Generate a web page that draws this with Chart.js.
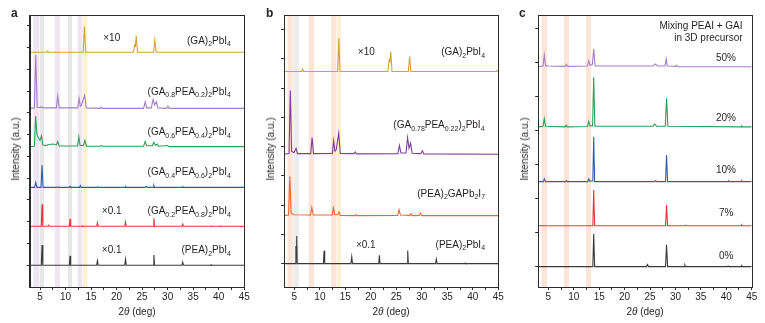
<!DOCTYPE html>
<html>
<head>
<meta charset="utf-8">
<script src="https://cdn.jsdelivr.net/npm/chart.js@4.4.1/dist/chart.umd.min.js"></script>
<style>
  body { margin:0; background:#fff; width:765px; height:323px; position:relative; overflow:hidden;
         font-family:"Liberation Sans", Arial, Helvetica, sans-serif; color:#231f20; }
  canvas { position:absolute; top:0; }
  .letter { position:absolute; font-weight:bold; font-size:12px; line-height:12px; top:7px; }
  .ytitle { position:absolute; font-size:10px; line-height:10px; white-space:nowrap;
            transform:translate(-50%,-50%) rotate(-90deg); }
  .xtitle { position:absolute; font-size:10px; line-height:10px; white-space:nowrap;
            transform:translateX(-50%); top:307px; }
</style>
</head>
<body>
<canvas id="ca" width="255" height="323" style="left:0"></canvas>
<canvas id="cb" width="255" height="323" style="left:255px"></canvas>
<canvas id="cc" width="255" height="323" style="left:510px"></canvas>

<div class="letter" style="left:11px">a</div>
<div class="letter" style="left:266px">b</div>
<div class="letter" style="left:519px">c</div>
<div class="ytitle" style="left:16px;top:149px">Intensity (a.u.)</div>
<div class="ytitle" style="left:271px;top:149px">Intensity (a.u.)</div>
<div class="ytitle" style="left:525px;top:149px">Intensity (a.u.)</div>
<div class="xtitle" style="left:137px">2<i>θ</i> (deg)</div>
<div class="xtitle" style="left:391px">2<i>θ</i> (deg)</div>
<div class="xtitle" style="left:645px">2<i>θ</i> (deg)</div>

<script>
// ---- data: x range + ticks ----
const xRange = [3, 45];
const xTicks = [5, 7.5, 10, 12.5, 15, 17.5, 20, 22.5, 25, 27.5, 30, 32.5, 35, 37.5, 40, 42.5, 45];

// ---- panel a: [2theta, intensity above own baseline] ----
const aGA = [[3,0],[6.3,0],[6.5,0.05],[6.7,0],[13.45,0],[13.7,1.18],[13.95,0],[23.3,0],[23.55,0.35],[23.7,0.3],
  [23.85,0.75],[24.1,0],[27.25,0],[27.5,0.57],[27.75,0],[45,0]];
const aGA08 = [[3,0],[3.9,0.02],[4.16,2.45],[4.45,0.05],[5.0,0.03],[5.3,0.08],[5.6,0.02],[8.2,0.02],[8.47,0.58],
  [8.75,0.02],[12.4,0.02],[12.65,0.46],[12.9,0.1],[13.1,0.15],[13.75,0.6],[14.05,0.02],[16.8,0],[17.0,0.06],[17.2,0],
  [25.3,0],[25.6,0.3],[25.9,0.02],[26.8,0.02],[27.15,0.41],[27.45,0.15],[27.8,0.3],[28.1,0.02],[29.8,0],[30.05,0.1],
  [30.3,0],[45,0]];
const aGA06 = [[3,0],[3.9,0.02],[4.15,1.41],[4.4,0.55],[4.7,0.4],[5.0,0.3],[5.3,0.49],[5.55,0.08],[6.0,0.05],[6.8,0.1],
  [7.6,0.12],[8.2,0.08],[8.47,0.24],[8.75,0.03],[12.35,0.03],[12.6,0.46],[12.85,0.05],[13.5,0.05],[13.8,0.28],[14.1,0.02],
  [16.8,0.02],[17.0,0.05],[17.3,0.02],[25.3,0.02],[25.6,0.24],[25.9,0.04],[27.0,0.04],[27.3,0.2],[27.6,0.06],[27.95,0.12],
  [28.2,0.02],[30,0.05],[30.3,0],[45,0]];
const aGA04 = [[3,0],[3.95,0],[4.16,0.23],[4.4,0],[5.2,0],[5.4,1.02],[5.6,0],[8.3,0],[8.45,0.03],[8.6,0],[10.75,0],
  [10.9,0.05],[11.05,0],[12.75,0],[12.9,0.08],[13.05,0],[16.15,0],[16.3,0.03],[16.45,0],[21.65,0],[21.8,0.04],[21.95,0],
  [25.6,0],[25.8,0.05],[26.0,0],[27.15,0],[27.3,0.1],[27.45,0],[32.85,0],[33,0.03],[33.15,0],[45,0]];
const aGA02 = [[3,0],[5.25,0],[5.4,1.01],[5.55,0],[6.55,0],[6.7,0.05],[6.85,0],[10.75,0],[10.88,0.34],[11.0,0],
  [13.2,0],[13.3,0.02],[13.4,0],[16.1,0],[16.25,0.17],[16.4,0],[21.6,0],[21.75,0.2],[21.9,0],[27.15,0],[27.3,0.37],
  [27.45,0],[32.8,0],[32.95,0.1],[33.1,0],[38.4,0],[38.5,0.02],[38.6,0],[40.2,0],[40.3,0.02],[40.4,0],[45,0]];
const aPEA = [[3,0],[5.25,0],[5.4,0.93],[5.55,0],[10.75,0],[10.88,0.43],[11.0,0],[16.1,0],[16.25,0.21],[16.4,0],
  [21.6,0],[21.75,0.28],[21.9,0],[27.15,0],[27.3,0.47],[27.45,0],[32.8,0],[32.95,0.14],[33.1,0],[38.4,0],[38.5,0.02],
  [38.6,0],[45,0]];
const aOffsets = [10.79, 8.21, 6.45, 4.58, 2.79, 1.0];
const aBands = [[3.69,4.8],[4.94,5.78],[7.94,8.92],[10.49,11.27],[12.39,13.3],[13.43,14.28]];

// ---- panel b ----
const bGA = [[3,0],[6.45,0],[6.62,0.08],[6.8,0],[13.5,0],[13.72,1.14],[13.95,0],[23.35,0],[23.6,0.4],[23.75,0.35],
  [23.9,0.68],[24.15,0],[27.35,0],[27.6,0.51],[27.85,0],[44.6,0],[44.8,0.03],[45,0]];
const bGA78 = [[3,0],[3.95,0.02],[4.2,2.18],[4.45,0.1],[4.9,0.05],[5.33,0.2],[5.6,0.02],[8.2,0.02],[8.47,0.57],
  [8.75,0.02],[12.45,0.03],[12.7,0.46],[12.95,0.1],[13.2,0.15],[13.7,0.72],[14.0,0.03],[16.7,0.02],[16.95,0.08],
  [17.2,0.01],[25.3,0.02],[25.6,0.3],[25.9,0.04],[26.9,0.04],[27.2,0.57],[27.5,0.2],[27.8,0.38],[28.1,0.03],[29.8,0.02],
  [30.1,0.12],[30.4,0.01],[45,0]];
const bGAPb = [[3,0],[3.85,0.02],[4.1,1.34],[4.35,0.1],[4.8,0.03],[8.15,0.02],[8.41,0.27],[8.7,0.02],[12.4,0.02],
  [12.65,0.27],[12.9,0.04],[13.5,0.03],[13.76,0.12],[14.0,0.01],[16.8,0],[17,0.04],[17.2,0],[25.25,0.01],[25.53,0.2],
  [25.8,0.02],[27.7,0.01],[27.9,0.07],[28.1,0],[29.5,0.01],[29.76,0.08],[30.0,0],[45,0]];
const bPEA = [[3,0],[5.2,0],[5.3,0.6],[5.37,0.3],[5.45,0.94],[5.55,0],[10.7,0],[10.82,0.44],[10.95,0],[16.1,0],
  [16.25,0.23],[16.4,0],[21.55,0],[21.67,0.28],[21.8,0],[27.1,0],[27.23,0.45],[27.35,0],[32.7,0],[32.84,0.15],[33,0],
  [38.4,0],[38.5,0.02],[38.6,0],[45,0]];
const bOffsets = [6.57, 3.74, 1.64, 0];
const bBands = [[3.63,4.69],[4.8,5.86],[7.8,8.86],[12.2,13.24],[13.37,14.16]];

// ---- panel c ----
const c50 = [[3,0],[3.95,0.02],[4.2,0.34],[4.45,0.03],[5,0.02],[8.3,0.01],[8.54,0.07],[8.8,0.01],[12.7,0.02],
  [12.94,0.17],[13.2,0.04],[13.65,0.06],[13.92,0.52],[14.2,0.02],[25.6,0.02],[26.0,0.08],[26.5,0.02],[27.95,0.02],
  [28.18,0.23],[28.4,0.02],[30.0,0.01],[30.2,0.04],[30.5,0],[45,0]];
const c20 = [[3,0],[3.95,0.02],[4.2,0.24],[4.45,0.02],[8.3,0],[8.5,0.05],[8.7,0],[12.7,0.01],[12.94,0.16],[13.2,0.03],
  [13.7,0.03],[13.92,1.46],[14.15,0.02],[25.6,0.02],[25.9,0.08],[26.3,0.02],[28.0,0.02],[28.26,0.84],[28.5,0.02],
  [42.9,0],[43.05,0.03],[43.2,0],[45,0]];
const c10 = [[3,0],[4.0,0],[4.2,0.08],[4.45,0],[8.4,0],[8.55,0.03],[8.7,0],[12.75,0],[12.94,0.08],[13.15,0.01],
  [13.75,0.02],[13.92,1.32],[14.1,0],[25.9,0],[26.1,0.03],[26.3,0],[28.05,0],[28.25,0.78],[28.45,0],[40.4,0],
  [40.5,0.02],[40.6,0],[42.9,0],[43.05,0.03],[43.2,0],[45,0]];
const c7 = [[3,0],[13.75,0],[13.92,1.05],[14.1,0],[28.05,0],[28.25,0.61],[28.45,0],[31.8,0],[32,0.02],[32.2,0],
  [42.9,0],[43.05,0.03],[43.2,0],[45,0]];
const c0 = [[3,0],[13.75,0],[13.92,0.96],[14.1,0],[24.3,0],[24.5,0.06],[24.7,0],[28.05,0],[28.25,0.64],[28.45,0],
  [31.7,0],[31.86,0.05],[32.0,0],[40.2,0],[40.35,0.02],[40.5,0],[42.9,0],[43.05,0.03],[43.2,0],[45,0]];
const cOffsets = [5.88, 4.11, 2.5, 1.2, 0];
const cBands = [[3.7,4.75],[8.08,9.07],[12.4,13.4]];

// ---- styles ----
const GOLD = '#d4a235', LILAC = '#a67ec3', GREEN = '#2f9e5a', BLUE = '#2f5eac', RED = '#e8363d',
      BLACK = '#3a3a3a', PURPLE = '#7b3f98', ORANGE = '#f0652b';
const FONT = '"Liberation Sans", Arial, Helvetica, sans-serif';
const TXT = '#231f20';

// text with subscripts: "(GA)_2PbI_4" or "_{0.8}"
function parseRich(s){
  const out = []; let i = 0, buf = '';
  while (i < s.length){
    if (s[i] === '_'){
      if (buf){ out.push([buf, false]); buf = ''; }
      if (s[i+1] === '{'){ const j = s.indexOf('}', i); out.push([s.slice(i+2, j), true]); i = j + 1; }
      else { out.push([s[i+1], true]); i += 2; }
    } else { buf += s[i]; i++; }
  }
  if (buf) out.push([buf, false]);
  return out;
}
function drawRich(ctx, text, x, y, align){
  const parts = parseRich(text);
  const main = '10px ' + FONT, sub = '7px ' + FONT;
  let w = 0;
  parts.forEach(p => { ctx.font = p[1] ? sub : main; w += ctx.measureText(p[0]).width; });
  let cx = align === 'right' ? x - w : align === 'center' ? x - w / 2 : x;
  ctx.fillStyle = TXT; ctx.textBaseline = 'alphabetic'; ctx.textAlign = 'left';
  const base = y + 3.6;
  parts.forEach(p => {
    ctx.font = p[1] ? sub : main;
    ctx.fillText(p[0], cx, base + (p[1] ? 2.6 : 0));
    cx += ctx.measureText(p[0]).width;
  });
}

const decorPlugin = {
  id: 'decor',
  beforeDatasetsDraw(chart, args, opts){
    const {ctx, chartArea: a, scales: {x}} = chart;
    ctx.save();
    (opts.bands || []).forEach((b, i) => {
      ctx.fillStyle = opts.bandColors[i];
      const x1 = x.getPixelForValue(b[0]), x2 = x.getPixelForValue(b[1]);
      ctx.fillRect(x1, a.top, x2 - x1, a.bottom - a.top);
    });
    ctx.restore();
  },
  afterDatasetsDraw(chart, args, opts){
    const {ctx, chartArea: a, scales: {x, y}} = chart;
    ctx.save();
    (opts.labels || []).forEach(l => drawRich(ctx, l.text, x.getPixelForValue(l.x), y.getPixelForValue(l.y), l.align || 'right'));
    ctx.strokeStyle = '#2b2b2b'; ctx.lineWidth = 1;
    ctx.strokeRect(Math.round(a.left) + 0.5, Math.round(a.top) + 0.5,
      Math.round(a.right) - Math.round(a.left), Math.round(a.bottom) - Math.round(a.top));
    ctx.restore();
  }
};

function makePanel(id, series, offsets, colors, yMin, yMax, yTicks, bands, bandColors, labels, target){
  const datasets = series.map((s, i) => ({
    data: s.map(p => ({x: p[0], y: p[1] + offsets[i]})),
    borderColor: colors[i], borderWidth: 1.1, pointRadius: 0, tension: 0, fill: false
  }));
  const chart = new Chart(document.getElementById(id), {
    type: 'line',
    data: { datasets },
    options: {
      responsive: false, animation: false, events: [],
      layout: { padding: { left: 20, right: 5, top: 15, bottom: 15 } },
      plugins: { legend: { display: false }, tooltip: { enabled: false },
        decor: { bands, bandColors, labels } },
      scales: {
        x: { type: 'linear', min: xRange[0], max: xRange[1],
          afterBuildTicks: s => { s.ticks = xTicks.map(v => ({value: v})); },
          ticks: { autoSkip: false, maxRotation: 0, padding: 1, color: TXT, font: { family: FONT, size: 10 },
            callback: v => (v % 5 === 0 ? String(v) : '') },
          grid: { drawOnChartArea: false, drawTicks: true, tickLength: 3, color: '#2b2b2b' },
          border: { display: true, color: '#2b2b2b' } },
        y: { type: 'linear', min: yMin, max: yMax,
          afterBuildTicks: s => { s.ticks = yTicks.map(v => ({value: v})); },
          ticks: { display: false },
          grid: { drawOnChartArea: false, drawTicks: true, tickLength: 3, color: '#2b2b2b' },
          border: { display: true, color: '#2b2b2b' } }
      }
    },
    plugins: [decorPlugin]
  });
  for (let k = 0; k < 3; k++){
    const a = chart.chartArea, p = chart.options.layout.padding;
    p.left += target.left - a.left;
    p.right += a.right - target.right;
    p.top += target.top - a.top;
    p.bottom += a.bottom - target.bottom;
    chart.update();
  }
  return chart;
}

makePanel('ca', [aGA, aGA08, aGA06, aGA04, aGA02, aPEA], aOffsets,
  [GOLD, LILAC, GREEN, BLUE, RED, BLACK], 0, 12.5, [1,2,3,4,5,6,7,8,9,10,11,12],
  aBands, ['#efe6f3', '#e7e7e7', '#efe6f3', '#e7e7e7', '#efe6f3', '#fef2d2'],
  [ { x: 19.05, y: 11.45, text: '×10', align: 'center' },
    { x: 42.4, y: 11.35, text: '(GA)_2PbI_4' },
    { x: 42.4, y: 9.0, text: '(GA_{0.8}PEA_{0.2})_2PbI_4' },
    { x: 42.4, y: 7.14, text: '(GA_{0.6}PEA_{0.4})_2PbI_4' },
    { x: 42.4, y: 5.3, text: '(GA_{0.4}PEA_{0.6})_2PbI_4' },
    { x: 19.05, y: 3.52, text: '×0.1', align: 'center' },
    { x: 42.4, y: 3.52, text: '(GA_{0.2}PEA_{0.8})_2PbI_4' },
    { x: 19.05, y: 1.72, text: '×0.1', align: 'center' },
    { x: 42.4, y: 1.72, text: '(PEA)_2PbI_4' } ],
  { left: 29.8, right: 244.2, top: 15, bottom: 287 });

makePanel('cb', [bGA, bGA78, bGAPb, bPEA], bOffsets,
  [GOLD, PURPLE, ORANGE, BLACK], -0.8, 8.5, [0,1,2,3,4,5,6,7,8],
  bBands, ['#fde4d8', '#ececec', '#fde4d8', '#fde4d8', '#fef2d2'],
  [ { x: 19.1, y: 7.25, text: '×10', align: 'center' },
    { x: 42.4, y: 7.25, text: '(GA)_2PbI_4' },
    { x: 42.3, y: 4.75, text: '(GA_{0.78}PEA_{0.22})_2PbI_4' },
    { x: 42.4, y: 2.41, text: '(PEA)_2GAPb_2I_7' },
    { x: 19.0, y: 0.67, text: '×0.1', align: 'center' },
    { x: 42.4, y: 0.67, text: '(PEA)_2PbI_4' } ],
  { left: 29.2, right: 243.3, top: 15, bottom: 287 });

makePanel('cc', [c50, c20, c10, c7, c0], cOffsets,
  [LILAC, GREEN, BLUE, RED, BLACK], -0.6, 7.4, [0,1,2,3,4,5,6,7],
  cBands, ['#fde4d8', '#fde4d8', '#fde4d8'],
  [ { x: 43.2, y: 7.08, text: 'Mixing PEAI + GAI' },
    { x: 43.2, y: 6.74, text: 'in 3D precursor' },
    { x: 41.9, y: 6.14, text: '50%' },
    { x: 41.9, y: 4.4, text: '20%' },
    { x: 41.9, y: 2.85, text: '10%' },
    { x: 41.4, y: 1.59, text: '7%' },
    { x: 41.4, y: 0.33, text: '0%' } ],
  { left: 28.2, right: 241.7, top: 15, bottom: 287 });
</script>
</body>
</html>
